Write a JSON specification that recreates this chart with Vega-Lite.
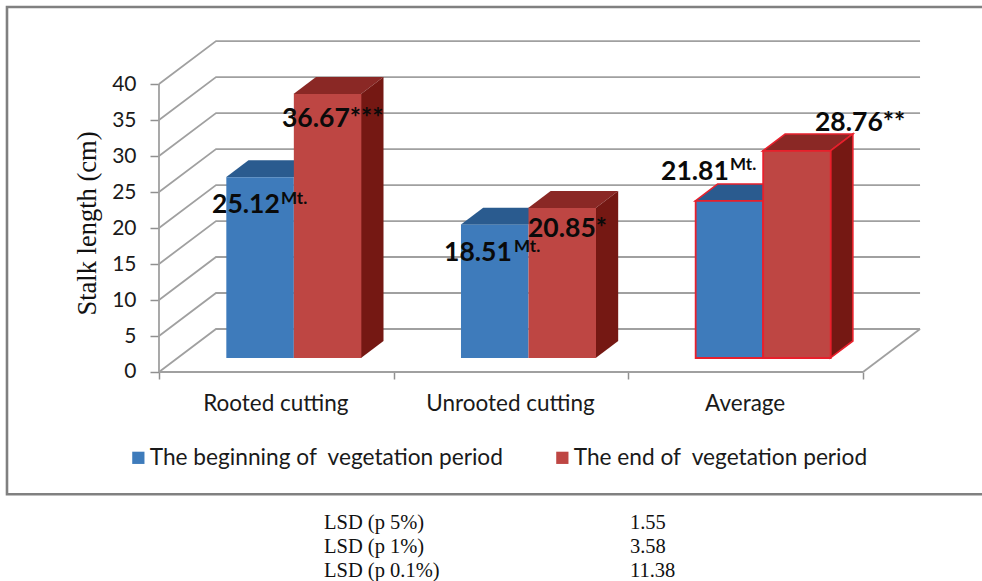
{
"$schema":"https://vega.github.io/schema/vega-lite/v6.json",
"width":982,"height":581,"padding":0,"autosize":{"type":"none"},"background":"white",
"config":{"view":{"stroke":null}},
"datasets":{
"bars":[
{"category":"Rooted cutting","series":"The beginning of \u00a0vegetation period","value":25.12},
{"category":"Rooted cutting","series":"The end of \u00a0vegetation period","value":36.67},
{"category":"Unrooted cutting","series":"The beginning of \u00a0vegetation period","value":18.51},
{"category":"Unrooted cutting","series":"The end of \u00a0vegetation period","value":20.85},
{"category":"Average","series":"The beginning of \u00a0vegetation period","value":21.81},
{"category":"Average","series":"The end of \u00a0vegetation period","value":28.76}],
"tops":[
{"bar":"a","category":"Rooted cutting","series":"b","x":0.2855,"x2":0.5731,"y":25.12},
{"bar":"a","category":"Rooted cutting","series":"b","x":0.3814,"x2":0.669,"y":27.48},
{"bar":"b","category":"Rooted cutting","series":"e","x":0.5731,"x2":0.8608,"y":36.67},
{"bar":"b","category":"Rooted cutting","series":"e","x":0.669,"x2":0.9567,"y":39.03},
{"bar":"c","category":"Unrooted cutting","series":"b","x":1.2855,"x2":1.5731,"y":18.51},
{"bar":"c","category":"Unrooted cutting","series":"b","x":1.3814,"x2":1.669,"y":20.87},
{"bar":"d","category":"Unrooted cutting","series":"e","x":1.5731,"x2":1.8608,"y":20.85},
{"bar":"d","category":"Unrooted cutting","series":"e","x":1.669,"x2":1.9567,"y":23.21},
{"bar":"e","category":"Average","series":"b","x":2.2855,"x2":2.5731,"y":21.81},
{"bar":"e","category":"Average","series":"b","x":2.3814,"x2":2.669,"y":24.17},
{"bar":"f","category":"Average","series":"e","x":2.5731,"x2":2.8608,"y":28.76},
{"bar":"f","category":"Average","series":"e","x":2.669,"x2":2.9567,"y":31.12}],
"sides":[
{"bar":"b","category":"Rooted cutting","x":0.8608,"y":36.67,"y2":0},
{"bar":"b","category":"Rooted cutting","x":0.9567,"y":39.03,"y2":2.36},
{"bar":"d","category":"Unrooted cutting","x":1.8608,"y":20.85,"y2":0},
{"bar":"d","category":"Unrooted cutting","x":1.9567,"y":23.21,"y2":2.36},
{"bar":"f","category":"Average","x":2.8608,"y":28.76,"y2":0},
{"bar":"f","category":"Average","x":2.9567,"y":31.12,"y2":2.36}],
"walls":[
{"line":"0","x":0,"y":0},{"line":"0","x":0.243,"y":5.97},{"line":"0","x":3.243,"y":5.97},
{"line":"5","x":0,"y":5},{"line":"5","x":0.243,"y":10.97},{"line":"5","x":3.243,"y":10.97},
{"line":"10","x":0,"y":10},{"line":"10","x":0.243,"y":15.97},{"line":"10","x":3.243,"y":15.97},
{"line":"15","x":0,"y":15},{"line":"15","x":0.243,"y":20.97},{"line":"15","x":3.243,"y":20.97},
{"line":"20","x":0,"y":20},{"line":"20","x":0.243,"y":25.97},{"line":"20","x":3.243,"y":25.97},
{"line":"25","x":0,"y":25},{"line":"25","x":0.243,"y":30.97},{"line":"25","x":3.243,"y":30.97},
{"line":"30","x":0,"y":30},{"line":"30","x":0.243,"y":35.97},{"line":"30","x":3.243,"y":35.97},
{"line":"35","x":0,"y":35},{"line":"35","x":0.243,"y":40.97},{"line":"35","x":3.243,"y":40.97},
{"line":"40","x":0,"y":40},{"line":"40","x":0.243,"y":45.97},{"line":"40","x":3.243,"y":45.97},
{"line":"edge","x":3,"y":0},{"line":"edge","x":3.243,"y":5.97},
{"line":"floor","x":0,"y":0},{"line":"floor","x":3,"y":0},
{"line":"left","x":0,"y":0},{"line":"left","x":0,"y":40}],
"labels":[
{"text":"25.12","x":0.2259,"y":22.08},
{"text":"36.67***","x":0.5241,"y":34.03},
{"text":"18.51","x":1.2145,"y":15.42},
{"text":"20.85*","x":1.5724,"y":18.75},
{"text":"21.81","x":2.1392,"y":26.67},
{"text":"28.76**","x":2.7954,"y":33.47}],
"sups":[
{"text":"Mt.","x":0.5199,"y":23.33},
{"text":"Mt.","x":1.5128,"y":16.67},
{"text":"Mt.","x":2.4332,"y":28.06}],
"lsd":[
{"text":"LSD (p 5%)","x":0.7031,"y":-21.8},
{"text":"LSD (p 1%)","x":0.7031,"y":-25.14},
{"text":"LSD (p 0.1%)","x":0.7031,"y":-28.47},
{"text":"1.55","x":2.007,"y":-21.8},
{"text":"3.58","x":2.007,"y":-25.14},
{"text":"11.38","x":2.007,"y":-28.47}],
"frame":[{"x":-0.6477,"x2":3.53,"y":50.69,"y2":-16.98}]
},
"resolve":{"scale":{"x":"independent","y":"independent"},"axis":{"x":"independent","y":"independent"}},
"layer":[
{"data":{"name":"frame"},"mark":{"type":"rect","fill":null,"stroke":"#808080","strokeWidth":2.6,"clip":false},
"encoding":{
"x":{"field":"x","type":"quantitative","scale":{"domain":[-0.6775,3.507],"nice":false,"zero":false},"axis":null},
"x2":{"field":"x2"},
"y":{"field":"y","type":"quantitative","scale":{"domain":[-29.03,51.67],"nice":false,"zero":false},"axis":null},
"y2":{"field":"y2"}}},
{"data":{"name":"walls"},"mark":{"type":"line","stroke":"#a0a0a0","strokeWidth":1.8,"interpolate":"linear"},
"encoding":{
"detail":{"field":"line"},
"x":{"field":"x","type":"quantitative","scale":{"domain":[-0.6775,3.507],"nice":false,"zero":false},
"axis":{"orient":"bottom","offset":-209,"values":[0,1,2,3],"labels":false,"domain":false,"grid":false,"ticks":true,"tickSize":7,"tickColor":"#909090","tickWidth":1.5,"title":null}},
"y":{"field":"y","type":"quantitative","scale":{"domain":[-29.03,51.67],"nice":false,"zero":false},
"axis":{"orient":"left","offset":-159,"values":[0,5,10,15,20,25,30,35,40],"domain":false,"grid":false,"tickSize":9,"tickColor":"#909090","tickWidth":1.5,"labelFont":"Lato","labelFontSize":21,"labelColor":"#1a1a1a","labelPadding":14,
"title":"Stalk length (cm)","titleFont":"Liberation Serif","titleFontWeight":"normal","titleFontSize":26.5,"titleColor":"#111111","titleX":-58,"titleY":223,"titleAngle":-90,"titleAlign":"center","titleBaseline":"bottom"}}}},
{"data":{"name":"tops"},"mark":{"type":"area","orient":"horizontal","interpolate":"linear"},
"encoding":{
"detail":{"field":"bar"},
"x":{"field":"x","type":"quantitative","scale":{"domain":[-0.6775,3.507],"nice":false,"zero":false},"axis":null},
"x2":{"field":"x2"},
"y":{"field":"y","type":"quantitative","scale":{"domain":[-30.97,49.72],"nice":false,"zero":false},"axis":null},
"fill":{"condition":{"test":"datum.series==='b'","value":"#2a5b8f"},"value":"#8a2825"},
"stroke":{"condition":{"test":"datum.category==='Average'","value":"#e8202c"},"value":null},
"strokeWidth":{"value":1.6}}},
{"data":{"name":"sides"},"mark":{"type":"area","interpolate":"linear","fill":"#751813"},
"encoding":{
"detail":{"field":"bar"},
"x":{"field":"x","type":"quantitative","scale":{"domain":[-0.6775,3.507],"nice":false,"zero":false},"axis":null},
"y":{"field":"y","type":"quantitative","scale":{"domain":[-30.97,49.72],"nice":false,"zero":false},"axis":null},
"y2":{"field":"y2"},
"stroke":{"condition":{"test":"datum.category==='Average'","value":"#e8202c"},"value":null},
"strokeWidth":{"value":1.6}}},
{"data":{"name":"bars"},"mark":{"type":"bar"},
"encoding":{
"x":{"field":"category","type":"nominal","sort":null,"scale":{"range":[176.5,880.5],"paddingInner":0,"paddingOuter":0},
"axis":{"orient":"bottom","offset":-209,"title":null,"domain":false,"ticks":false,"grid":false,"labelAngle":0,"labelFont":"Lato","labelFontSize":22.5,"labelColor":"#1a1a1a","labelPadding":20,"labelOffset":-18}},
"xOffset":{"field":"series","type":"nominal","sort":null,"scale":{"paddingInner":0,"paddingOuter":0.738}},
"y":{"field":"value","type":"quantitative","scale":{"domain":[-30.97,49.72],"nice":false,"zero":false},"axis":null},
"color":{"field":"series","type":"nominal","sort":null,"scale":{"range":["#3e7bbb","#be4643"]},
"legend":{"orient":"none","legendX":127,"legendY":446,"direction":"horizontal","columns":2,"title":null,"symbolType":"square","symbolSize":150,"symbolStrokeWidth":0,"labelFont":"Lato","labelFontSize":22.7,"labelColor":"#1a1a1a","labelOffset":0,"columnPadding":47,"labelLimit":500,"padding":0}},
"stroke":{"condition":{"test":"datum.category==='Average'","value":"#e8202c"},"value":null},
"strokeWidth":{"value":1.8}}},
{"data":{"name":"labels"},"mark":{"type":"text","align":"left","baseline":"alphabetic","font":"Lato","fontWeight":"bold","fontSize":26.5,"color":"#0a0a0a"},
"encoding":{
"text":{"field":"text"},
"x":{"field":"x","type":"quantitative","scale":{"domain":[-0.6775,3.507],"nice":false,"zero":false},"axis":null},
"y":{"field":"y","type":"quantitative","scale":{"domain":[-29.03,51.67],"nice":false,"zero":false},"axis":null}}},
{"data":{"name":"sups"},"mark":{"type":"text","align":"left","baseline":"alphabetic","font":"Lato","fontWeight":"bold","fontSize":17,"color":"#0a0a0a"},
"encoding":{
"text":{"field":"text"},
"x":{"field":"x","type":"quantitative","scale":{"domain":[-0.6775,3.507],"nice":false,"zero":false},"axis":null},
"y":{"field":"y","type":"quantitative","scale":{"domain":[-29.03,51.67],"nice":false,"zero":false},"axis":null}}},
{"data":{"name":"lsd"},"mark":{"type":"text","align":"left","baseline":"alphabetic","font":"Liberation Serif","fontSize":20.5,"color":"#111111"},
"encoding":{
"text":{"field":"text"},
"x":{"field":"x","type":"quantitative","scale":{"domain":[-0.6775,3.507],"nice":false,"zero":false},"axis":null},
"y":{"field":"y","type":"quantitative","scale":{"domain":[-29.03,51.67],"nice":false,"zero":false},"axis":null}}}
]
}
